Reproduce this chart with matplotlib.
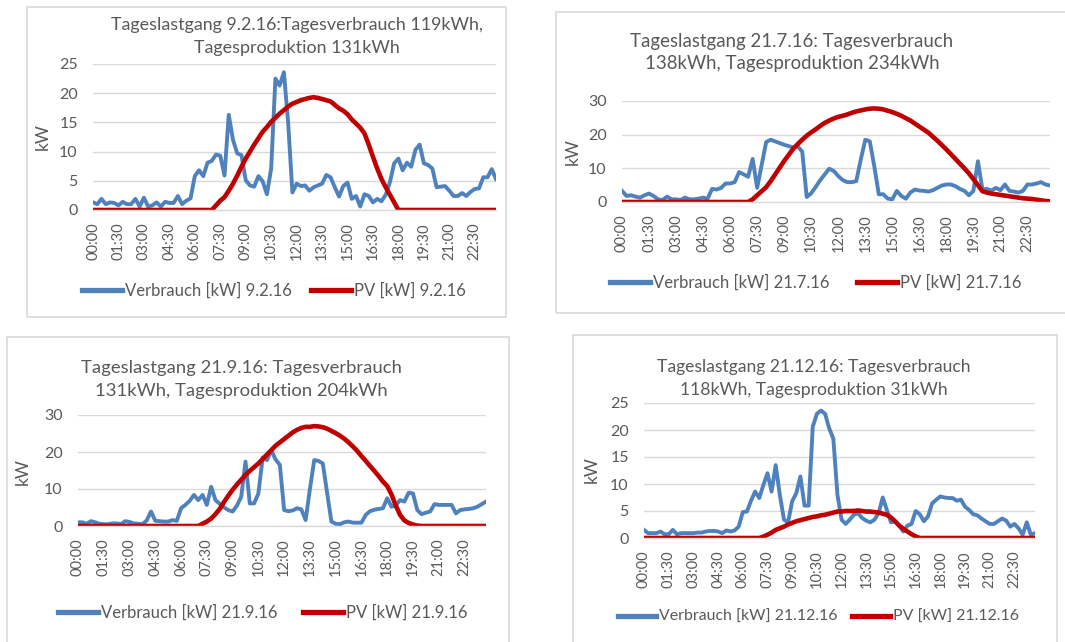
import matplotlib
matplotlib.use("Agg")
import matplotlib.pyplot as plt
from matplotlib.patches import Rectangle

plt.rcParams['font.family'] = ['Lato', 'DejaVu Sans']

W, H = 1065, 642

tick_labels = ["00:00", "01:30", "03:00", "04:30", "06:00", "07:30", "09:00", "10:30",
               "12:00", "13:30", "15:00", "16:30", "18:00", "19:30", "21:00", "22:30"]

# 15-min values, 96 per day
verbrauch_9_2 = [1.3, 1.0, 1.9, 1.0, 1.3, 1.2, 0.8, 1.4, 1.0, 1.0, 1.9, 0.6, 2.1, 0.6, 0.8, 1.3,
                 0.6, 1.4, 1.2, 1.2, 2.4, 1.0, 1.6, 2.0, 5.8, 6.8, 5.8, 8.1, 8.4, 9.5, 9.3, 5.9,
                 16.3, 12.0, 9.7, 9.4, 5.1, 4.2, 4.0, 5.8, 4.9, 2.7, 7.1, 22.5, 21.3, 23.6, 15.0, 3.0,
                 4.5, 4.1, 4.2, 3.3, 3.9, 4.2, 4.5, 6.0, 5.6, 3.9, 2.3, 4.1, 4.7, 1.9, 2.4, 0.6,
                 2.7, 2.4, 1.3, 1.9, 1.5, 2.6, 4.8, 8.0, 8.8, 6.8, 8.1, 7.4, 10.3, 11.2, 8.0, 7.7,
                 7.1, 3.9, 4.0, 4.1, 3.3, 2.4, 2.4, 2.9, 2.4, 3.1, 3.6, 3.7, 5.6, 5.6, 7.0, 5.3]
pv_9_2 = [0] * 29 + [0.8, 1.6, 2.2, 3.3, 4.5, 5.9, 7.4, 8.8, 10.0, 11.2, 12.3, 13.4, 14.2, 15.1,
                     15.8, 16.5, 17.1, 17.7, 18.2, 18.5, 18.8, 19.0, 19.2, 19.3, 19.2, 19.0, 18.8,
                     18.6, 18.0, 17.4, 17.0, 16.4, 15.5, 14.8, 14.1, 13.1, 11.2, 9.1, 7.1, 5.3,
                     3.9, 2.6, 1.3] + [0] * 24

verbrauch_21_7 = [3.3, 1.8, 2.0, 1.6, 1.3, 2.0, 2.5, 1.8, 0.8, 0.6, 1.6, 0.8, 0.8, 0.6, 1.3, 0.8,
                  0.8, 1.0, 1.3, 1.0, 3.9, 3.7, 4.2, 5.5, 5.5, 5.9, 8.9, 8.2, 7.5, 12.8, 4.2, 11.0,
                  17.8, 18.5, 18.0, 17.5, 17.0, 16.6, 16.2, 16.5, 15.0, 1.5, 2.6, 4.5, 6.5, 8.2, 9.9, 9.2,
                  7.7, 6.5, 5.9, 5.9, 6.2, 12.6, 18.5, 18.0, 10.6, 2.3, 2.3, 1.0, 0.8, 3.3, 1.8, 1.0,
                  2.8, 3.7, 3.4, 3.3, 3.1, 3.5, 4.2, 4.9, 5.2, 5.2, 4.7, 3.9, 3.3, 2.0, 3.3, 12.1,
                  3.7, 3.9, 3.4, 4.2, 3.5, 5.2, 3.3, 3.1, 2.8, 3.3, 5.2, 5.2, 5.5, 5.9, 5.2, 4.9]
pv_21_7 = [0] * 29 + [0.8, 2.0, 3.2, 4.4, 6.2, 8.2, 10.2, 12.2, 14.0, 15.8, 17.2, 18.5, 19.7, 20.7,
                      21.6, 22.6, 23.5, 24.2, 24.8, 25.3, 25.6, 26.0, 26.5, 26.9, 27.2, 27.5, 27.7,
                      27.8, 27.7, 27.5, 27.1, 26.7, 26.2, 25.6, 24.9, 24.2, 23.3, 22.4, 21.5, 20.6,
                      19.4, 18.2, 16.9, 15.6, 14.2, 12.8, 11.4, 10.0, 8.5, 6.8, 5.0, 3.2, 2.8, 2.5,
                      2.3, 2.1, 1.9, 1.7, 1.5, 1.3, 1.1, 1.0, 0.9, 0.7, 0.5, 0.3, 0.2]

verbrauch_21_9 = [1.0, 1.0, 0.6, 1.3, 1.0, 0.6, 0.5, 0.5, 0.7, 0.7, 0.5, 1.3, 1.1, 0.7, 0.6, 0.5,
                  1.5, 3.9, 1.4, 1.3, 1.2, 1.2, 1.6, 1.4, 4.8, 5.7, 6.8, 8.4, 7.0, 8.4, 5.7, 10.6,
                  7.0, 6.0, 5.0, 4.3, 3.9, 5.5, 7.9, 17.4, 6.1, 6.1, 8.8, 18.5, 17.8, 20.5, 18.0, 16.5,
                  4.3, 4.0, 4.2, 4.8, 4.5, 1.6, 10.0, 17.8, 17.6, 16.9, 9.0, 1.2, 0.6, 0.5, 1.0, 1.2,
                  0.9, 0.9, 0.9, 3.0, 4.0, 4.4, 4.6, 4.8, 7.5, 5.2, 5.6, 7.0, 6.6, 9.0, 8.8, 4.3,
                  3.2, 3.6, 3.9, 5.9, 5.7, 5.7, 5.7, 5.7, 3.4, 4.3, 4.5, 4.6, 4.8, 5.2, 5.9, 6.6]
pv_21_9 = [0] * 29 + [0.6, 1.2, 2.0, 3.2, 4.6, 6.5, 8.2, 9.8, 11.2, 12.5, 13.8, 14.9, 15.9, 16.9,
                      18.1, 19.3, 20.5, 21.7, 22.6, 23.5, 24.4, 25.3, 26.0, 26.5, 26.8, 26.8, 27.0,
                      26.9, 26.7, 26.3, 25.7, 25.1, 24.4, 23.6, 22.6, 21.5, 20.3, 18.9, 17.6, 16.2,
                      14.9, 13.5, 12.0, 10.8, 8.5, 5.5, 3.0, 1.5, 0.8, 0.4, 0.1] + [0] * 16

verbrauch_21_12 = [1.5, 0.9, 0.9, 0.9, 1.2, 0.7, 0.7, 1.5, 0.7, 0.9, 0.9, 0.9, 0.9, 1.0, 1.0, 1.2,
                   1.3, 1.3, 1.2, 0.9, 1.4, 1.2, 1.4, 2.1, 4.8, 4.9, 6.9, 8.6, 7.4, 9.8, 12.0, 8.6,
                   13.5, 8.0, 3.4, 2.9, 6.8, 8.3, 11.4, 6.0, 6.0, 20.6, 23.0, 23.6, 23.0, 20.3, 18.4, 8.0,
                   3.4, 2.6, 3.4, 4.3, 4.6, 3.7, 3.2, 2.9, 3.4, 4.6, 7.5, 5.2, 2.9, 3.1, 2.3, 1.2,
                   2.3, 2.6, 5.0, 4.4, 3.1, 4.0, 6.4, 7.1, 7.7, 7.5, 7.4, 7.4, 6.9, 7.1, 5.8, 5.2,
                   4.4, 4.2, 3.6, 3.1, 2.6, 2.6, 3.1, 3.6, 3.2, 2.1, 2.6, 1.8, 0.6, 2.9, 0.6, 0.9]
pv_21_12 = [0] * 29 + [0.25, 0.6, 1.0, 1.5, 1.8, 2.1, 2.5, 2.8, 3.1, 3.3, 3.5, 3.7, 3.9, 4.0, 4.2,
                       4.3, 4.5, 4.7, 4.9, 4.9, 5.0, 5.0, 5.0, 5.1, 5.0, 4.9, 4.9, 4.8, 4.7, 4.5,
                       4.3, 3.8, 3.1, 2.3, 1.7, 1.2, 0.7, 0.3] + [0] * 29

BLUE = '#4f81bd'
RED = '#c00000'
GREY = '#595959'
GRID = '#d9d9d9'

fig = plt.figure(figsize=(W / 100, H / 100), dpi=100)
fig.patch.set_facecolor('white')


def fx(x):
    return x / W


def fy(y):
    return 1 - y / H


charts = [
    dict(day="9.2.16", v=verbrauch_9_2, p=pv_9_2, ymax=25, ystep=5,
         title=["Tageslastgang 9.2.16:Tagesverbrauch 119kWh,", "Tagesproduktion 131kWh"],
         frame=(27, 7, 506, 317), plot=(93, 64, 496, 210),
         title_xy=(297, 25), kw_xy=(43, 137), leg_xy=(82, 291), tf=12.9, lf=12, cs=1.1),
    dict(day="21.7.16", v=verbrauch_21_7, p=pv_21_7, ymax=30, ystep=10,
         title=["Tageslastgang 21.7.16: Tagesverbrauch", "138kWh, Tagesproduktion 234kWh"],
         frame=(556, 12, 1070, 313), plot=(622, 101, 1050, 202),
         title_xy=(792, 41), kw_xy=(573, 152), leg_xy=(610, 283), tf=13.4, lf=12, cs=1.6),
    dict(day="21.9.16", v=verbrauch_21_9, p=pv_21_9, ymax=30, ystep=10,
         title=["Tageslastgang 21.9.16: Tagesverbrauch", "131kWh, Tagesproduktion 204kWh"],
         frame=(7, 337, 509, 660), plot=(78, 415, 486, 526),
         title_xy=(241, 368), kw_xy=(23, 472), leg_xy=(58, 613), tf=13.3, lf=12, cs=1.5),
    dict(day="21.12.16", v=verbrauch_21_12, p=pv_21_12, ymax=25, ystep=5,
         title=["Tageslastgang 21.12.16: Tagesverbrauch", "118kWh, Tagesproduktion 31kWh"],
         frame=(573, 335, 1057, 660), plot=(644, 403, 1035, 538),
         title_xy=(814, 367), kw_xy=(592, 470), leg_xy=(618, 617), tf=12.6, lf=11.4, cs=0.9),
]

for c in charts:
    x0, y0, x1, y1 = c["frame"]
    fig.add_artist(Rectangle((fx(x0), fy(y1)), (x1 - x0) / W, (y1 - y0) / H,
                             transform=fig.transFigure, fill=False, edgecolor=GRID, lw=1.2))

    px0, py0, px1, py1 = c["plot"]
    ax = fig.add_axes([fx(px0), fy(py1), (px1 - px0) / W, (py1 - py0) / H])
    lv, = ax.plot(range(96), c["v"], color=BLUE, lw=2.8, solid_joinstyle='round',
                  label="Verbrauch [kW] " + c["day"])
    lp, = ax.plot(range(96), c["p"], color=RED, lw=3.3, solid_joinstyle='round',
                  label="PV [kW] " + c["day"])
    ax.set_xlim(0, 95)
    ax.set_ylim(0, c["ymax"])
    ax.set_yticks(range(0, c["ymax"] + 1, c["ystep"]))
    ax.set_xticks(range(0, 96, 6))
    ax.set_xticklabels(tick_labels, rotation=90)
    ax.tick_params(axis='y', length=0, pad=11, labelsize=11.5, labelcolor=GREY)
    ax.tick_params(axis='x', length=0, pad=9, labelsize=10.5, labelcolor=GREY)
    ax.grid(axis='y', color=GRID, lw=1.0)
    ax.set_axisbelow(True)
    for s in ['top', 'right', 'left']:
        ax.spines[s].set_visible(False)
    ax.spines['bottom'].set_color(GRID)
    ax.spines['bottom'].set_linewidth(1.0)

    tx, ty = c["title_xy"]
    fig.text(fx(tx), fy(ty), c["title"][0], ha='center', va='center', fontsize=c["tf"], color=GREY)
    fig.text(fx(tx), fy(ty + 23), c["title"][1], ha='center', va='center', fontsize=c["tf"], color=GREY)

    kx, ky = c["kw_xy"]
    fig.text(fx(kx), fy(ky), "kW", rotation=90, ha='center', va='center', fontsize=12.5, color=GREY)

    lx, ly = c["leg_xy"]
    leg = ax.legend(handles=[lv, lp], loc='center left', bbox_to_anchor=(fx(lx), fy(ly)),
                    bbox_transform=fig.transFigure, ncol=2, frameon=False, fontsize=c["lf"],
                    handlelength=2.4, handletextpad=0.2, columnspacing=c["cs"], borderpad=0,
                    borderaxespad=0)
    for t in leg.get_texts():
        t.set_color(GREY)
    for h in leg.legend_handles:
        h.set_linewidth(3.8)

fig.savefig("out.png", dpi=100, facecolor='white')
